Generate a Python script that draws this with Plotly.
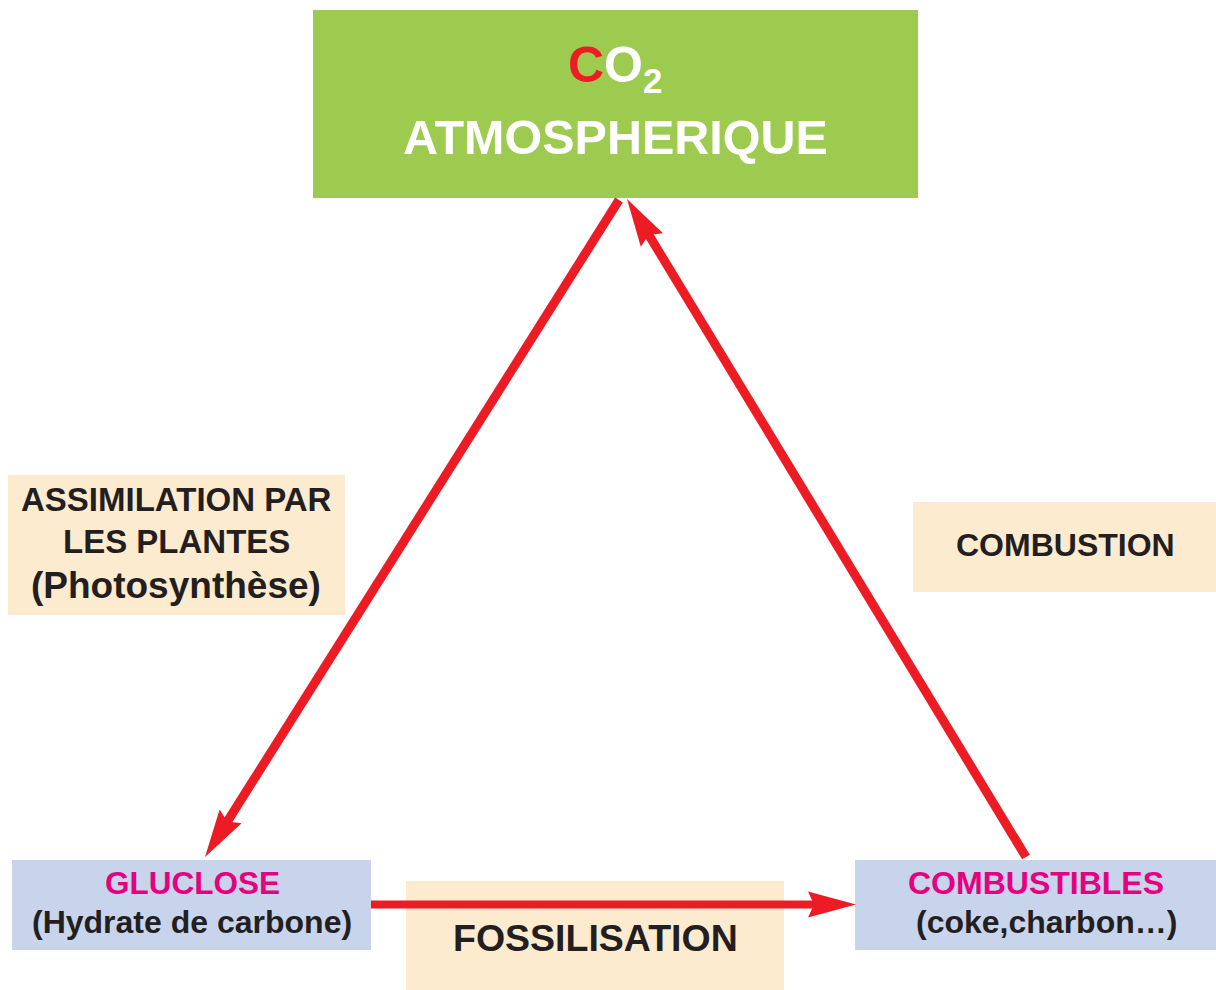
import math
import plotly.graph_objects as go

# ---- content (text) ----
title_line1 = "<span style='color:#ED1C24'>C</span>O<sub>2</sub>"
title_line2 = "ATMOSPHERIQUE"
assim_lines = ["ASSIMILATION PAR", "LES PLANTES", "(Photosynthèse)"]
combustion_label = "COMBUSTION"
glucose_lines = ["GLUCLOSE", "(Hydrate de carbone)"]
combust_lines = ["COMBUSTIBLES", "(coke,charbon…)"]
fossil_label = "FOSSILISATION"

# ---- layout geometry (pixels, y downward) ----
W, H = 1216, 990
GREEN = "#9DCB4F"
PEACH = "#FDEBD0"
BLUE = "#C7D4EC"
RED = "#ED1C24"
MAGENTA = "#E6007E"
DARK = "#231F20"
FONT = "Liberation Sans"

boxes = [
    dict(x0=313, x1=918, y0=10, y1=198, color=GREEN),
    dict(x0=8, x1=345, y0=475, y1=615, color=PEACH),
    dict(x0=913, x1=1216, y0=502, y1=592, color=PEACH),
    dict(x0=406, x1=784, y0=881, y1=990, color=PEACH),
    dict(x0=12, x1=371, y0=860, y1=950, color=BLUE),
    dict(x0=855, x1=1216, y0=860, y1=950, color=BLUE),
]

# arrows: start, tip, shaft width
arrows = [
    dict(start=(619, 200), tip=(205, 857), width=9),
    dict(start=(1026, 857), tip=(627, 199), width=9),
    dict(start=(371, 904.5), tip=(856, 904.5), width=8),
]
HEAD_LEN = 48
HEAD_HALF = 13
NOTCH = 6

fig = go.Figure()
shapes = []
for b in boxes:
    shapes.append(dict(type="rect", xref="x", yref="y", x0=b["x0"], x1=b["x1"],
                       y0=b["y0"], y1=b["y1"], fillcolor=b["color"],
                       line=dict(width=0), layer="below"))

for a in arrows:
    sx, sy = a["start"]
    tx, ty = a["tip"]
    dx, dy = tx - sx, ty - sy
    L = math.hypot(dx, dy)
    ux, uy = dx / L, dy / L
    nx, ny = -uy, ux
    bx, by = tx - HEAD_LEN * ux, ty - HEAD_LEN * uy
    ex, ey = bx + NOTCH * 1.5 * ux, by + NOTCH * 1.5 * uy
    shapes.append(dict(type="line", xref="x", yref="y", x0=sx, y0=sy, x1=ex, y1=ey,
                       line=dict(color=RED, width=a["width"]), layer="above"))
    w1 = (bx + HEAD_HALF * nx, by + HEAD_HALF * ny)
    w2 = (bx - HEAD_HALF * nx, by - HEAD_HALF * ny)
    nt = (bx + NOTCH * ux, by + NOTCH * uy)
    path = "M {:.1f},{:.1f} L {:.1f},{:.1f} L {:.1f},{:.1f} L {:.1f},{:.1f} Z".format(
        tx, ty, w1[0], w1[1], nt[0], nt[1], w2[0], w2[1])
    shapes.append(dict(type="path", xref="x", yref="y", path=path,
                       fillcolor=RED, line=dict(width=0), layer="above"))

annos = []
def add(text, x, y, size, color=DARK):
    annos.append(dict(text=text, x=x, y=y, xref="x", yref="y", showarrow=False,
                      xanchor="center", yanchor="middle",
                      font=dict(family=FONT, size=size, color=color, weight="bold")))

add(title_line1, 615, 68, 50, "white")
add(title_line2, 615, 137, 48.5, "white")
add(assim_lines[0], 176, 499, 33)
add(assim_lines[1], 176, 541, 33)
add(assim_lines[2], 176, 585, 37)
add(combustion_label, 1065, 545, 32)
add(glucose_lines[0], 192, 883, 31.5, MAGENTA)
add(glucose_lines[1], 192, 922, 32)
add(combust_lines[0], 1036, 883, 32, MAGENTA)
add(combust_lines[1], 1046, 922, 32)
add(fossil_label, 595, 938, 37.5)

fig.update_layout(
    width=W, height=H, margin=dict(l=0, r=0, t=0, b=0),
    paper_bgcolor="white", plot_bgcolor="white",
    xaxis=dict(range=[0, W], visible=False, fixedrange=True),
    yaxis=dict(range=[H, 0], visible=False, fixedrange=True),
    shapes=shapes, annotations=annos, showlegend=False,
)
fig.write_html("out.html", config={"displayModeBar": False},
               post_script="document.body.style.margin='0';document.body.style.overflow='hidden';")
